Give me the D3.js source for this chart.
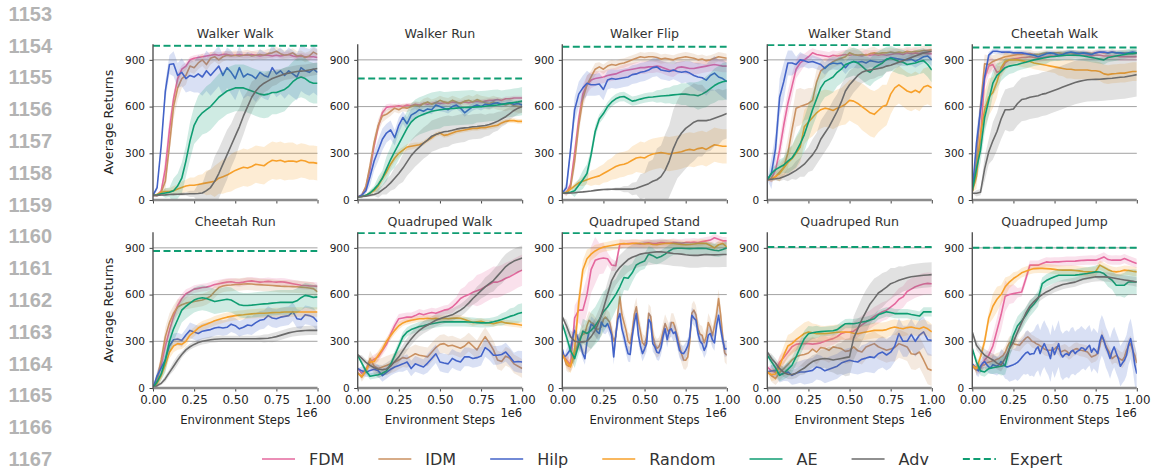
<!DOCTYPE html>
<html>
<head>
<meta charset="utf-8">
<script src="https://cdn.jsdelivr.net/npm/d3@7"></script>
<style>
  body { margin: 0; background: #fff; }
  svg text { font-family: "DejaVu Sans", sans-serif; }
</style>
</head>
<body>
<svg id="chart"></svg>
<script>
const W = 1153, H = 471;

const methods = ['FDM', 'IDM', 'Hilp', 'Random', 'AE', 'Adv'];
const methodColors = ['#e5689e', '#ca9161', '#4363c8', '#f7a02a', '#0f9d72', '#6b6b6b'];
const expertColor = '#0f9d72';

const taskTitles = ['Walker Walk', 'Walker Run', 'Walker Flip', 'Walker Stand', 'Cheetah Walk',
  'Cheetah Run', 'Quadruped Walk', 'Quadruped Stand', 'Quadruped Run', 'Quadruped Jump'];
const expertScores = [990, 780, 985, 995, 980, 880, 995, 995, 905, 900];
const yTicks = [0, 300, 600, 900];
const xTicks = [0, 0.25e6, 0.5e6, 0.75e6, 1e6];
const lineNumbers = [1153, 1154, 1155, 1156, 1157, 1158, 1159, 1160, 1161, 1162, 1163, 1164, 1165, 1166, 1167];

// mean returns per method (order as in `methods`), evenly spaced over 0..1e6 steps
const walkerWalkMean = [
  [30,30,60,200,450,650,780,840,860,900,910,915,920,925,930,935,930,935,935,930,930,935,930,930,935,930,925,930,930,925,930,925,930,935,925,920,925,920,920,920,915],
  [30,30,50,120,350,600,720,780,800,860,850,880,900,870,910,920,900,920,930,925,930,925,930,935,925,930,935,930,940,945,955,940,930,935,945,925,930,915,925,950,935],
  [30,80,350,700,870,875,800,820,780,800,790,810,790,830,800,830,860,800,850,820,780,850,790,810,800,780,820,800,790,850,810,830,800,830,810,790,850,830,820,840,820],
  [30,35,50,55,55,60,70,80,90,95,95,100,105,110,115,120,140,150,160,175,190,200,210,205,215,230,225,220,240,255,250,255,245,250,250,245,255,250,240,240,235],
  [30,32,40,45,50,60,90,140,250,380,480,530,560,580,600,630,660,680,700,710,720,720,720,710,700,690,680,675,680,690,690,700,710,730,760,780,790,780,760,750,750],
  [30,30,32,33,35,36,37,38,39,40,40,42,45,60,80,120,170,230,290,350,410,470,540,600,660,700,730,750,765,780,790,800,810,815,820,825,828,830,835,840,845]
];
const walkerWalkSpread = [
  [0,10,80,40,25,20,20,20,20,20,20,20,20,20,20,20,20,20,20,20,20],
  [0,10,60,80,60,40,40,40,30,30,30,30,30,30,30,30,30,30,30,30,30],
  [0,20,60,80,90,100,120,130,130,130,140,140,140,150,150,150,150,150,150,150,150],
  [0,10,20,30,40,50,60,80,100,110,120,120,120,120,120,120,120,120,110,110,110],
  [0,10,30,80,100,120,140,150,150,150,150,150,150,150,150,140,140,130,130,130,130],
  [0,5,5,5,10,20,60,120,160,160,140,120,100,80,60,50,40,40,40,40,40]
];

const walkerRunMean = [
  [20,30,80,200,350,470,560,595,600,600,605,600,610,605,615,610,620,615,620,625,620,625,620,630,625,625,630,625,630,635,630,635,640,640,645,640,650,650,655,655,655],
  [20,30,90,220,370,480,540,550,570,590,580,595,590,600,610,600,620,630,615,625,640,630,625,640,630,620,635,640,630,645,635,625,620,630,620,615,610,620,605,600,600],
  [20,30,60,150,250,320,390,430,450,400,480,530,490,545,560,580,570,585,580,610,600,590,580,600,610,590,560,580,600,610,600,615,610,620,625,615,620,625,615,620,610],
  [20,22,30,45,60,90,140,180,230,270,300,320,340,345,350,355,365,385,400,420,430,415,420,430,440,445,450,455,460,460,465,465,470,475,480,495,505,510,510,505,505],
  [20,22,30,45,70,100,140,200,260,310,360,410,460,500,525,540,550,560,570,575,580,583,586,588,590,592,594,595,596,598,600,602,605,608,610,614,618,622,626,630,635],
  [20,22,25,30,35,45,65,85,110,140,170,205,245,285,315,340,365,385,410,420,430,438,442,448,455,460,463,466,470,472,475,478,485,495,505,520,535,555,575,590,600]
];
const walkerRunSpread = [
  [0,10,40,30,20,15,15,15,15,15,15,15,15,15,15,15,15,15,15,15,15],
  [0,10,40,40,30,25,25,25,30,30,30,30,30,30,35,35,40,40,40,40,40],
  [0,20,60,70,60,50,40,40,30,30,30,25,25,25,25,25,25,25,20,20,20],
  [0,5,15,30,30,25,20,20,15,15,15,15,15,15,15,15,15,15,15,15,15],
  [0,5,20,50,80,100,110,120,120,120,120,110,110,110,110,100,100,100,90,90,90],
  [0,5,10,30,50,70,90,100,100,100,100,100,90,90,80,80,70,60,50,40,40]
];

const walkerFlipMean = [
  [43,45,100,300,520,680,740,770,780,785,790,800,805,810,820,830,835,840,845,850,850,855,855,860,855,845,835,830,850,855,850,845,845,850,855,860,865,870,865,860,860],
  [43,45,80,250,480,650,740,790,840,855,840,860,870,865,875,880,890,900,910,920,915,920,920,915,905,910,905,900,910,915,920,915,910,900,905,895,900,910,920,915,910],
  [43,80,320,580,680,720,750,740,740,745,710,770,780,775,780,785,790,805,810,820,825,835,850,855,835,830,825,835,825,820,825,815,800,790,785,770,800,815,790,780,760],
  [43,50,70,90,110,120,130,140,148,155,170,185,200,215,225,230,240,255,270,275,270,285,295,300,305,300,295,300,305,310,320,325,320,330,335,325,340,355,350,345,345],
  [43,45,50,60,95,130,170,290,440,520,555,600,630,650,662,665,650,635,640,648,655,660,662,665,668,670,672,675,678,680,680,676,674,670,680,695,715,735,750,760,765],
  [43,44,45,47,50,52,55,58,62,65,67,68,69,70,70,70,70,70,75,85,95,105,120,130,150,190,250,330,390,430,460,480,500,510,510,510,515,525,535,545,555]
];
const walkerFlipSpread = [
  [0,20,60,60,50,40,40,40,40,40,40,40,40,40,40,40,40,40,40,40,40],
  [0,20,60,60,40,30,30,30,30,30,30,30,30,30,30,30,30,30,30,30,30],
  [0,40,80,80,70,70,60,60,60,60,60,60,60,60,60,70,80,90,100,110,120],
  [0,10,20,30,50,60,70,80,80,90,100,100,100,110,110,110,110,110,110,110,110],
  [0,10,40,60,40,30,30,30,30,30,30,30,40,50,60,70,80,90,100,110,120],
  [0,5,5,5,5,5,5,10,20,40,80,140,200,230,250,260,250,230,200,180,160]
];

const walkerStandMean = [
  [130,140,190,320,480,620,730,840,880,900,920,945,935,930,925,920,930,925,930,935,930,935,930,925,935,930,935,930,935,930,935,940,940,935,945,940,945,940,945,940,940],
  [130,135,150,180,210,300,450,590,600,610,620,640,760,830,850,870,890,900,910,920,945,935,930,935,930,940,945,940,945,945,950,945,950,945,955,950,955,955,960,960,965],
  [130,170,330,660,760,880,880,870,900,895,885,890,880,870,845,870,880,875,880,850,880,890,885,890,880,895,890,885,890,900,915,910,905,900,900,905,890,905,920,925,900],
  [130,135,150,170,205,240,265,300,340,470,500,530,560,580,590,585,575,590,600,615,640,635,620,600,580,560,550,575,600,610,680,720,740,720,700,690,705,690,725,735,720],
  [130,170,195,210,225,250,270,310,360,420,500,580,650,720,760,775,790,820,840,870,880,890,880,860,835,820,850,865,880,905,910,900,890,885,870,875,880,890,895,870,835],
  [130,133,136,140,150,160,175,190,210,230,260,290,330,390,430,470,520,570,630,700,740,770,800,820,830,835,840,845,850,860,865,875,885,895,905,915,925,935,945,950,955]
];
const walkerStandSpread = [
  [0,30,80,80,60,40,30,30,30,30,30,30,30,30,30,30,30,30,30,30,30],
  [0,20,60,100,120,100,80,60,40,40,40,40,40,40,30,30,30,30,30,30,30],
  [0,100,120,80,50,40,40,40,40,40,40,40,40,40,40,40,40,40,40,40,40],
  [0,20,50,80,100,110,120,120,120,120,130,140,150,150,140,130,120,120,120,120,120],
  [0,30,50,80,100,110,110,100,100,90,90,90,90,90,90,80,80,80,80,80,80],
  [0,10,20,40,60,80,100,120,120,110,90,80,70,60,50,40,30,20,20,20,20]
];

const cheetahWalkMean = [
  [55,200,400,780,860,870,820,830,880,900,905,910,915,915,920,915,910,915,920,925,925,930,930,930,930,935,930,930,930,925,930,930,925,925,925,925,920,920,920,920,920],
  [55,250,600,875,870,890,900,910,920,925,930,935,935,940,940,935,935,940,945,940,945,945,940,945,945,940,945,945,945,940,945,950,945,945,950,945,945,945,940,945,945],
  [55,360,580,790,930,955,955,950,950,950,945,945,945,940,935,930,920,930,940,945,940,930,935,945,950,945,940,945,940,935,945,950,950,945,950,945,945,940,945,950,945],
  [55,150,420,580,660,690,760,850,890,900,900,900,895,890,890,880,875,870,865,860,855,850,845,840,840,835,835,835,835,830,830,825,810,805,810,812,815,815,820,825,825],
  [55,200,320,530,640,750,800,825,850,860,865,870,878,885,893,900,905,910,915,920,922,925,928,930,930,930,928,925,920,915,910,905,900,915,920,925,930,935,940,940,945],
  [43,43,50,200,310,380,440,520,580,580,585,620,645,650,660,665,670,680,685,695,705,715,725,735,745,755,762,768,772,774,775,776,778,780,782,785,788,790,795,800,805]
];
const cheetahWalkSpread = [
  [0,80,60,40,30,30,25,25,25,25,25,25,25,25,25,25,25,25,25,25,25],
  [0,80,60,40,30,25,25,25,20,20,20,20,20,20,20,20,20,20,20,20,20],
  [0,80,20,15,15,15,15,15,15,15,15,15,15,15,15,15,15,15,15,15,15],
  [0,80,120,100,60,40,40,40,40,40,40,50,60,60,60,60,60,60,60,60,60],
  [0,80,100,80,60,50,40,40,40,40,30,30,30,30,30,30,30,30,30,30,30],
  [0,20,80,120,130,140,140,140,140,140,140,140,140,140,140,140,140,140,140,140,140]
];

const cheetahRunMean = [
  [0,50,150,270,370,460,530,575,605,620,635,640,645,648,655,665,670,675,680,682,678,675,680,686,688,684,680,682,685,682,680,682,680,675,670,665,660,658,656,655,653],
  [0,60,180,330,420,480,520,535,545,550,555,560,565,575,590,620,645,655,660,662,665,665,668,670,668,665,664,662,660,658,656,654,653,652,651,650,648,645,642,638,617],
  [0,80,130,180,270,310,315,305,340,370,360,350,365,370,375,385,390,385,390,410,400,380,390,405,400,420,435,440,465,450,445,455,460,465,490,445,440,470,465,455,425],
  [0,30,80,150,230,270,285,280,300,340,360,385,400,410,420,432,440,448,455,460,465,468,470,474,476,478,480,480,482,484,485,486,488,488,488,488,488,488,488,488,488],
  [0,40,90,180,300,380,440,500,525,545,565,575,580,575,565,555,560,565,570,565,550,535,530,530,532,535,538,540,542,545,548,550,550,550,550,560,580,595,590,582,585],
  [0,15,30,60,100,140,180,215,245,265,280,292,300,305,310,313,315,316,316,316,316,316,316,316,316,316,317,318,320,324,330,338,346,354,360,364,367,369,370,370,370]
];
const cheetahRunSpread = [
  [0,40,60,40,30,25,25,25,25,25,25,25,25,25,25,25,25,25,25,25,25],
  [0,40,60,50,40,40,40,40,40,40,40,40,40,40,40,40,40,40,40,40,40],
  [0,30,40,40,40,50,50,50,50,50,50,50,60,60,60,60,60,60,60,60,60],
  [0,30,40,40,30,30,30,30,30,30,30,30,30,30,30,30,30,30,30,30,30],
  [0,40,80,80,80,80,80,80,80,80,80,80,80,80,80,80,80,80,80,80,80],
  [0,10,20,30,20,20,20,20,20,20,20,20,20,20,25,30,30,30,30,30,30]
];

const quadrupedWalkMean = [
  [125,95,120,165,185,200,240,280,345,400,445,450,455,455,465,478,470,478,485,480,490,500,505,520,545,575,590,600,615,625,635,650,665,680,680,690,705,715,730,745,757],
  [100,70,110,190,140,125,135,145,155,165,180,195,190,205,220,210,205,200,230,260,280,285,270,275,265,255,270,295,270,245,290,330,290,245,180,170,205,190,155,140,125],
  [125,110,100,113,120,110,80,100,120,135,145,155,167,125,155,145,135,160,190,220,167,160,155,190,175,167,200,200,190,195,205,260,240,210,210,215,231,200,167,170,167],
  [92,75,110,165,170,210,250,300,335,370,400,418,428,435,440,445,445,448,445,447,445,448,445,448,450,448,440,430,420,425,428,420,418,413,420,425,418,415,412,408,403],
  [210,160,110,75,80,85,95,110,150,210,270,330,360,375,385,395,400,407,413,418,422,425,425,425,425,425,425,424,422,420,418,418,420,425,432,440,450,460,467,478,485],
  [215,190,165,145,130,120,118,122,140,170,200,240,280,315,345,370,390,405,420,435,445,455,462,470,485,500,520,545,575,600,625,650,670,690,720,750,780,800,815,825,835]
];
const quadrupedWalkSpread = [
  [0,20,30,30,30,30,30,30,30,30,30,30,40,60,80,100,100,100,100,100,100],
  [0,30,50,60,60,60,60,60,60,60,60,60,60,60,60,60,60,60,60,60,60],
  [0,30,40,40,40,40,50,50,50,60,60,60,60,60,60,60,60,60,60,60,70],
  [0,20,30,30,25,25,20,20,20,20,20,20,20,20,20,20,20,20,20,20,20],
  [0,20,20,20,20,30,30,30,30,30,30,30,30,30,30,30,30,30,40,50,60],
  [0,20,20,30,40,40,40,40,40,40,40,40,40,40,40,50,60,70,80,80,80]
];

const quadrupedStandMean = [
  [215,180,150,450,500,500,600,760,820,830,835,830,790,785,925,925,928,930,928,925,930,932,928,930,935,932,930,935,932,930,935,935,938,935,940,945,950,965,955,945,945],
  [210,190,150,140,145,170,220,260,300,330,345,350,400,435,420,414,395,375,380,392,440,456,440,424,360,300,330,480,585,470,420,370,300,285,360,470,521,430,360,290,274,330,480,460,340,280,255,265,300,360,414,380,350,420,420,380,330,270,220,180,178,199,300,480,500,470,380,345,339,290,330,420,390,335,400,470,574,470,330,225,210],
  [250,200,210,230,250,320,370,340,300,270,220,189,300,360,410,400,381,360,350,424,400,395,414,380,340,200,340,440,478,380,330,270,220,215,330,420,478,340,270,221,250,285,440,420,285,264,230,225,260,330,381,310,370,380,350,360,300,242,225,221,242,270,330,467,450,435,350,300,285,242,270,340,350,310,290,400,467,380,306,250,253],
  [215,170,135,250,550,760,830,860,880,895,905,910,915,920,925,928,925,928,930,928,925,928,922,920,925,928,930,928,925,922,920,922,925,928,930,928,915,900,920,928,906],
  [414,330,240,189,280,365,350,370,400,440,490,520,560,600,650,710,705,740,790,805,815,860,850,835,845,860,880,895,898,898,896,895,896,897,897,896,890,885,882,890,900],
  [457,400,330,300,296,296,300,330,370,430,510,600,690,740,775,800,825,840,850,860,865,868,872,874,874,872,868,864,862,860,856,853,852,852,855,857,856,855,856,857,857]
];
const quadrupedStandSpread = [
  [0,40,80,120,150,100,40,30,25,25,25,25,25,25,25,25,25,25,25,25,25],
  [0,40,50,60,60,60,60,60,60,60,60,60,60,60,60,60,60,60,60,60,60],
  [0,40,40,40,50,50,50,50,50,50,50,50,50,50,50,50,50,50,50,50,50],
  [0,40,80,60,40,30,30,30,25,25,25,25,25,25,25,25,25,25,25,25,25],
  [0,40,60,80,120,130,120,100,80,60,50,50,40,40,40,40,40,40,40,40,40],
  [0,40,50,80,80,80,80,80,80,80,80,80,80,80,80,80,80,80,80,80,80]
];

const quadrupedRunMean = [
  [135,110,100,167,195,230,265,280,285,285,285,282,285,290,300,310,317,330,350,358,360,365,385,405,424,440,460,475,490,500,520,540,570,585,620,635,650,660,668,672,670],
  [103,80,60,100,124,150,180,200,210,215,225,250,231,260,255,242,264,258,253,235,240,264,240,231,264,275,285,265,253,242,250,260,285,275,264,220,215,231,180,124,113],
  [103,110,113,85,95,103,81,95,103,103,108,113,135,128,110,120,130,140,160,170,178,172,167,185,192,200,195,220,231,212,230,270,350,300,300,345,300,340,360,310,306],
  [103,85,90,140,210,270,285,310,330,350,360,355,349,350,349,352,355,358,360,360,358,352,349,355,360,365,370,370,370,375,385,392,385,381,388,392,385,381,392,380,360],
  [210,170,130,81,95,120,146,200,260,317,349,355,360,362,364,366,368,375,395,413,414,413,418,424,428,436,445,470,480,489,485,478,478,478,478,472,467,462,489,489,489],
  [231,190,160,124,100,88,86,95,113,128,150,170,180,186,190,186,180,185,190,195,200,320,380,440,490,540,574,610,628,648,670,680,692,700,708,714,718,721,724,726,728]
];
const quadrupedRunSpread = [
  [0,40,40,40,40,40,40,40,40,40,50,60,60,60,60,60,70,70,70,70,70],
  [0,40,50,60,70,80,80,80,80,80,80,80,80,80,80,80,90,90,100,100,100],
  [0,40,50,60,70,80,80,80,80,80,80,80,90,100,100,100,100,100,100,100,100],
  [0,40,60,70,70,70,60,50,50,50,50,50,50,50,50,50,50,50,50,50,50],
  [0,40,40,50,50,50,40,30,30,30,30,30,30,30,30,30,30,30,30,30,30],
  [0,30,30,30,30,40,40,60,80,100,120,140,140,130,110,100,90,80,80,80,80]
];

const quadrupedJumpMean = [
  [146,130,124,180,210,270,370,470,590,600,606,612,617,700,789,789,789,800,810,808,810,810,812,814,814,815,818,820,821,822,821,830,842,825,821,822,821,831,820,810,800],
  [146,125,114,120,140,146,150,160,165,170,175,178,185,190,200,210,230,264,290,296,285,280,278,274,290,306,320,328,317,300,296,285,280,270,264,250,245,242,242,242,250,264,250,231,238,242,235,221,230,242,250,253,245,242,240,236,231,215,199,205,210,225,270,339,300,270,245,220,189,200,210,195,185,178,200,242,270,285,240,210,160],
  [156,140,120,110,140,160,170,150,135,130,150,145,140,150,170,160,140,135,140,145,150,156,165,178,195,210,225,231,215,220,221,250,264,221,260,285,255,230,189,260,215,250,285,220,199,215,221,210,235,242,221,235,242,258,255,242,260,274,230,255,240,221,300,339,306,260,230,190,235,264,225,190,140,160,178,210,280,317,250,150,92],
  [146,124,200,300,450,525,570,600,650,680,703,720,740,750,760,767,768,768,767,765,762,758,757,757,757,755,752,748,746,746,748,789,775,760,750,746,750,757,755,750,746],
  [253,167,110,103,124,130,135,140,146,250,340,400,430,467,510,540,574,670,690,703,715,724,724,724,724,725,728,732,735,740,746,745,735,710,692,660,660,660,681,683,681],
  [360,274,240,210,195,180,160,146,190,250,296,360,420,480,525,555,580,600,617,630,645,655,665,670,675,680,690,700,705,710,714,715,714,712,708,703,698,694,690,686,681]
];
const quadrupedJumpSpread = [
  [0,30,40,80,100,60,30,30,30,30,30,30,30,30,30,30,30,30,30,30,30],
  [0,30,40,40,40,40,40,40,40,40,40,40,40,40,40,40,40,40,50,50,60],
  [0,40,40,60,80,100,120,140,150,150,150,150,150,140,130,130,130,130,130,130,130],
  [0,30,40,80,60,40,30,30,30,30,30,30,30,30,30,30,30,30,30,30,30],
  [0,30,30,40,60,60,60,50,50,40,40,40,40,40,40,40,50,60,70,80,80],
  [0,30,40,40,40,40,40,40,30,30,30,30,30,30,30,30,30,30,30,30,30]
];

const taskMeans = [walkerWalkMean, walkerRunMean, walkerFlipMean, walkerStandMean, cheetahWalkMean,
  cheetahRunMean, quadrupedWalkMean, quadrupedStandMean, quadrupedRunMean, quadrupedJumpMean];
const taskSpreads = [walkerWalkSpread, walkerRunSpread, walkerFlipSpread, walkerStandSpread, cheetahWalkSpread,
  cheetahRunSpread, quadrupedWalkSpread, quadrupedStandSpread, quadrupedRunSpread, quadrupedJumpSpread];

// layout
const colX = [153, 357.7, 562.3, 767.3, 972.3];
const rowY = [44.3, 232.3];
const panelW = 164.5, panelH = 155.7;

const svg = d3.select("#chart")
  .attr("width", W)
  .attr("height", H)
  .attr("viewBox", [0, 0, W, H]);

svg.append("rect").attr("width", W).attr("height", H).attr("fill", "#fff");

// line numbers of the page margin
svg.append("g")
  .selectAll("text")
  .data(lineNumbers)
  .join("text")
  .attr("x", 52)
  .attr("y", (d, i) => 20.7 + i * 31.8)
  .attr("text-anchor", "end")
  .style("font-family", "'Liberation Sans', Arial, sans-serif")
  .attr("font-weight", "bold")
  .attr("font-size", 20)
  .attr("fill", "#b3b3b3")
  .text(d => d);

taskTitles.forEach((title, p) => {
  const row = Math.floor(p / 5), col = p % 5;
  const g = svg.append("g").attr("transform", `translate(${colX[col]},${rowY[row]})`);

  const x = d3.scaleLinear().domain([0, 1e6]).range([0, panelW]);
  const y = d3.scaleLinear().domain([0, 1000]).range([panelH, 0]);

  const clipId = "clip" + p;
  g.append("clipPath").attr("id", clipId)
    .append("rect").attr("width", panelW).attr("height", panelH);

  // horizontal grid
  g.append("g")
    .selectAll("line")
    .data(yTicks.slice(1))
    .join("line")
    .attr("x1", 0).attr("x2", panelW)
    .attr("y1", d => y(d)).attr("y2", d => y(d))
    .attr("stroke", "#a3a3a3")
    .attr("stroke-width", 1);

  const plot = g.append("g").attr("clip-path", `url(#${clipId})`);

  methods.forEach((m, i) => {
    const mean = taskMeans[p][i];
    const spread = taskSpreads[p][i];
    const n = mean.length;
    const pts = mean.map((v, k) => ({
      step: k / (n - 1) * 1e6,
      v: v,
      s: spread[Math.round(k * (spread.length - 1) / (n - 1))]
    }));

    plot.append("path")
      .datum(pts)
      .attr("d", d3.area().x(d => x(d.step)).y0(d => y(d.v - d.s)).y1(d => y(d.v + d.s)))
      .attr("fill", methodColors[i])
      .attr("fill-opacity", 0.2)
      .attr("stroke", "none");

    plot.append("path")
      .datum(pts)
      .attr("d", d3.line().x(d => x(d.step)).y(d => y(d.v)))
      .attr("fill", "none")
      .attr("stroke", methodColors[i])
      .attr("stroke-width", 1.6)
      .attr("stroke-linejoin", "round");
  });

  // expert reference
  plot.append("line")
    .attr("x1", 0).attr("x2", panelW)
    .attr("y1", y(expertScores[p])).attr("y2", y(expertScores[p]))
    .attr("stroke", expertColor)
    .attr("stroke-width", 2)
    .attr("stroke-dasharray", "7,3.5");

  // axes
  const yAxis = g.append("g")
    .call(d3.axisLeft(y).tickValues(yTicks).tickSize(3.5).tickPadding(4.5));
  yAxis.select(".domain").remove();
  yAxis.selectAll("line").attr("stroke", "#444");
  yAxis.selectAll("text").attr("font-size", 10.5).attr("fill", "#222")
    .style("font-family", "'DejaVu Sans', sans-serif");

  const xAxis = g.append("g")
    .attr("transform", `translate(0,${panelH})`)
    .call(d3.axisBottom(x).tickValues(xTicks).tickSize(3.5).tickPadding(4)
      .tickFormat(row === 1 ? (d => (d / 1e6).toFixed(2)) : ""));
  xAxis.select(".domain").remove();
  xAxis.selectAll("line").attr("stroke", "#444");
  xAxis.selectAll("text").attr("font-size", 11.8).attr("fill", "#222")
    .style("font-family", "'DejaVu Sans', sans-serif");

  // spines
  g.append("line")
    .attr("x1", 0).attr("x2", panelW)
    .attr("y1", panelH).attr("y2", panelH)
    .attr("stroke", "#8c8c8c").attr("stroke-width", 2.4);
  g.append("line")
    .attr("x1", 0).attr("x2", 0)
    .attr("y1", 0).attr("y2", panelH + 1.2)
    .attr("stroke", "#555").attr("stroke-width", 1.4);

  g.append("text")
    .attr("x", panelW / 2)
    .attr("y", -6)
    .attr("text-anchor", "middle")
    .attr("font-size", 12.6)
    .attr("fill", "#333")
    .text(title);

  if (row === 1) {
    g.append("text")
      .attr("x", panelW / 2)
      .attr("y", panelH + 36)
      .attr("text-anchor", "middle")
      .attr("font-size", 11.6)
      .attr("fill", "#222")
      .text("Environment Steps");
    g.append("text")
      .attr("x", panelW)
      .attr("y", panelH + 28.7)
      .attr("text-anchor", "end")
      .attr("font-size", 11.5)
      .attr("fill", "#222")
      .text("1e6");
  }

  if (col === 0) {
    g.append("text")
      .attr("transform", `translate(-40.3,${panelH / 2}) rotate(-90)`)
      .attr("text-anchor", "middle")
      .attr("font-size", 12.7)
      .attr("fill", "#222")
      .text("Average Returns");
  }
});

// legend
const legend = svg.append("g").attr("transform", "translate(262,459)");
const legendItems = methods.map((m, i) => ({ label: m, color: methodColors[i], dash: null }))
  .concat([{ label: "Expert", color: expertColor, dash: "7,3.5" }]);
let lx = 0;
legendItems.forEach(item => {
  const it = legend.append("g").attr("transform", `translate(${lx},0)`);
  it.append("line")
    .attr("x1", 0).attr("x2", 33)
    .attr("stroke", item.color)
    .attr("stroke-width", item.dash ? 2 : 1.6)
    .attr("stroke-dasharray", item.dash);
  const t = it.append("text")
    .attr("x", 47)
    .attr("dy", "0.36em")
    .attr("font-size", 16)
    .attr("fill", "#333")
    .text(item.label);
  lx += 47 + t.node().getComputedTextLength() + 34;
});
</script>
</body>
</html>
